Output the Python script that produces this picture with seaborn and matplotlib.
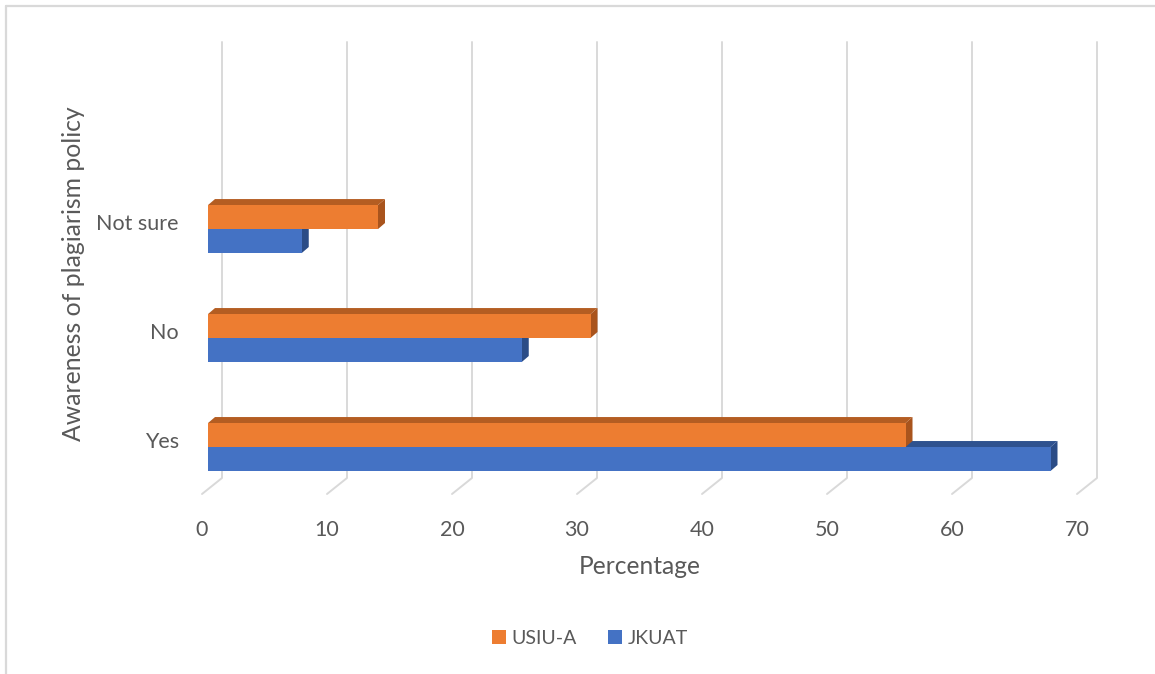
import matplotlib
matplotlib.use("Agg")
import matplotlib.pyplot as plt
import matplotlib.transforms as mtransforms
from matplotlib.patches import Polygon
from matplotlib.lines import Line2D
import seaborn as sns
import pandas as pd

# Survey results (percent of respondents)
categories = ["Not sure", "No", "Yes"]
institutions = ["USIU-A", "JKUAT"]
usiu_a = [13.6, 30.6, 55.8]
jkuat = [7.5, 25.1, 67.4]
x_ticks = [0, 10, 20, 30, 40, 50, 60, 70]

colors = {"USIU-A": "#ED7D31", "JKUAT": "#4472C4"}
top_colors = {"USIU-A": "#B45D22", "JKUAT": "#2F528F"}
side_colors = {"USIU-A": "#A9541D", "JKUAT": "#2B4C86"}
grid_color = "#D9D9D9"
text_color = "#595959"

df = pd.DataFrame({
    "Awareness": categories * 2,
    "Institution": [institutions[0]] * 3 + [institutions[1]] * 3,
    "Percentage": usiu_a + jkuat,
})

sns.set_theme(style="white")
plt.rcParams["font.family"] = ["Lato", "DejaVu Sans"]

W, H, DPI = 1155, 674, 100
fig = plt.figure(figsize=(W / DPI, H / DPI), dpi=DPI)
fig.patch.set_facecolor("white")

# plot area in pixels: bar front plane x 208..1083, y 42..494 (from top)
left_px, right_px, top_px, bottom_px = 208, 1083, 42, 494
ax = fig.add_axes([left_px / W, 1 - bottom_px / H,
                   (right_px - left_px) / W, (bottom_px - top_px) / H])

sns.barplot(data=df, x="Percentage", y="Awareness", hue="Institution",
            order=categories, hue_order=institutions, palette=colors,
            orient="h", width=0.44, saturation=1, ax=ax, legend=False,
            linewidth=0, zorder=3)

ax.set_xlim(0, 70)
ax.set_ylim(2.431, -1.716)

# pixel -> data conversions for the perspective offsets
px_x = 70 / (right_px - left_px)
px_y = 4.147 / (bottom_px - top_px)
depth_dx = 7 * px_x
depth_dy = 6 * px_y
back_dx = 14 * px_x
front_dx = -6 * px_x

# 3D faces for each bar (JKUAT first so USIU-A sits on top)
bars = list(ax.patches)
n = len(categories)
groups = {institutions[0]: bars[:n], institutions[1]: bars[n:]}
z = 4
for inst in [institutions[1], institutions[0]]:
    for rect in groups[inst]:
        x0 = rect.get_x()
        x1 = x0 + rect.get_width()
        y_a = rect.get_y()
        y_b = y_a + rect.get_height()
        ytop, ybot = min(y_a, y_b), max(y_a, y_b)
        top = Polygon([(x0, ytop), (x1, ytop), (x1 + depth_dx, ytop - depth_dy),
                       (x0 + depth_dx, ytop - depth_dy)], closed=True,
                      facecolor=top_colors[inst], edgecolor="none", zorder=z)
        side = Polygon([(x1, ytop), (x1 + depth_dx, ytop - depth_dy),
                        (x1 + depth_dx, ybot - depth_dy), (x1, ybot)], closed=True,
                       facecolor=side_colors[inst], edgecolor="none", zorder=z)
        ax.add_patch(side)
        ax.add_patch(top)
        rect.set_zorder(z + 0.5)
    z += 1

# gridlines: back wall verticals and floor diagonals
blend = mtransforms.blended_transform_factory(ax.transData, ax.transAxes)
floor_frac = 16 / (bottom_px - top_px)
for v in x_ticks:
    ax.add_line(Line2D([v + back_dx, v + back_dx, v + front_dx],
                       [1.0, floor_frac, 0.0], transform=blend,
                       color=grid_color, lw=1.4, zorder=1, clip_on=False))

ax.grid(False)
for s in ax.spines.values():
    s.set_visible(False)

ax.set_xticks(x_ticks)
ax.set_xticklabels([str(v) for v in x_ticks])
ax.tick_params(axis="x", length=0, pad=19, labelsize=15.5, labelcolor=text_color)
for lab in ax.get_xticklabels():
    lab.set_transform(lab.get_transform() +
                      mtransforms.ScaledTranslation(-6 / DPI, 0, fig.dpi_scale_trans))

ax.tick_params(axis="y", length=0, pad=21, labelsize=15.5, labelcolor=text_color)
for lab in ax.get_yticklabels():
    lab.set_transform(lab.get_transform() +
                      mtransforms.ScaledTranslation(0, 7 / DPI, fig.dpi_scale_trans))

ax.set_xlabel("")
ax.set_ylabel("")
fig.text(640 / W, 1 - 566 / H, "Percentage", ha="center", va="center",
         fontsize=17.7, color=text_color)
fig.text(74 / W, 1 - 274 / H, "Awareness of plagiarism policy", rotation=90,
         ha="center", va="center", fontsize=17.8, color=text_color)

handles = [plt.Rectangle((0, 0), 1, 1, facecolor=colors[i], edgecolor="none")
           for i in institutions]
fig.legend(handles, institutions, loc="center", bbox_to_anchor=(590 / W, 1 - 638 / H),
           ncol=2, frameon=False, fontsize=14, handlelength=0.7, handleheight=0.7,
           handletextpad=0.3, columnspacing=1.6, labelcolor=text_color)

# outer frame
fig.add_artist(Line2D([6 / W, 6 / W], [0, 1 - 6 / H], transform=fig.transFigure,
                      color=grid_color, lw=1.6))
fig.add_artist(Line2D([6 / W, 1], [1 - 6 / H, 1 - 6 / H], transform=fig.transFigure,
                      color=grid_color, lw=1.6))

fig.savefig("out.png", dpi=DPI)
